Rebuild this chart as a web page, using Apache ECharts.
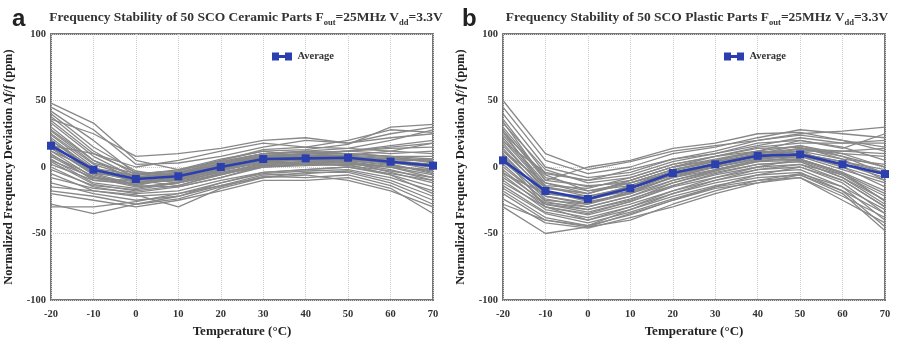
<!DOCTYPE html>
<html><head><meta charset="utf-8">
<script src="https://cdn.jsdelivr.net/npm/echarts@6/dist/echarts.min.js"></script>
<style>html,body{margin:0;padding:0;background:#fff}#c{width:897px;height:343px}</style>
</head><body><div id="c"></div>
<script>
var temps = [-20,-10,0,10,20,30,40,50,60,70];
var yTicks = [-100,-50,0,50,100];
var avgCeramic = [16,-2,-9,-7,0,6,6.5,7,4,1];
var avgPlastic = [5,-18,-24,-16,-4.5,2,8.4,9.4,2,-5.3];

var partsCeramic = [
[48,33,5,-2,4,10,12,14,20,28],
[45,28,2,3,8,15,20,18,22,25],
[42,20,-5,-3,5,12,13,17,30,32],
[40,15,-3,-8,2,8,10,12,15,18],
[38,12,-6,-4,3,10,12,10,8,6],
[35,10,-4,-10,-2,6,8,8,5,2],
[33,8,-8,-5,2,9,10,12,14,15],
[30,5,-7,-9,-3,4,5,7,4,-2],
[28,5,-10,-6,1,8,9,8,2,-5],
[27,3,-5,-3,5,13,15,14,12,10],
[25,2,-8,-12,-5,3,6,4,0,-8],
[24,0,-12,-8,-2,5,6,8,6,4],
[22,-2,-9,-6,1,6,10,12,16,20],
[20,-3,-11,-10,-4,2,3,3,-2,-10],
[20,-1,-6,-2,6,12,8,9,7,5],
[18,-5,-13,-9,-1,5,5,6,3,0],
[17,-4,-10,-14,-6,1,2,4,-4,-12],
[15,-6,-14,-8,2,8,10,10,8,8],
[14,-5,-8,-4,4,10,11,12,10,12],
[12,-8,-15,-12,-3,4,6,5,1,-3],
[12,-2,-7,-5,3,7,4,6,4,2],
[10,-10,-12,-10,-2,3,4,5,2,-4],
[9,-7,-14,-15,-8,0,1,2,-6,-15],
[8,-9,-10,-5,2,8,8,9,12,18],
[6,-12,-16,-11,-4,2,4,3,0,-6],
[5,-8,-11,-8,0,7,7,8,6,5],
[4,-13,-18,-14,-5,0,2,1,-3,-8],
[2,-10,-13,-6,3,9,9,10,8,3],
[0,-15,-20,-18,-10,-4,-2,0,-5,-10],
[-2,-14,-17,-12,-6,2,3,5,4,6],
[-5,-18,-22,-20,-12,-5,-3,-2,-8,-18],
[-8,-16,-19,-15,-8,1,2,2,0,-2],
[-12,-20,-25,-22,-14,-6,-5,-3,-10,-22],
[-15,-18,-21,-30,-16,-8,-4,-4,-12,-25],
[-18,-22,-28,-24,-15,-7,-8,-6,-14,-28],
[-20,-25,-30,-25,-18,-10,-10,-8,-16,-35],
[-28,-35,-28,-22,-12,-4,-2,0,-6,-20],
[-30,-30,-26,-20,-14,-8,-6,-10,-18,-30],
[36,25,8,10,14,20,22,18,25,30],
[16,10,0,5,12,18,15,20,28,26]
];

var partsPlastic = [
[50,10,-2,4,12,16,20,25,27,30],
[45,5,-5,0,10,15,22,28,25,22],
[40,0,-8,-4,6,12,20,24,20,12],
[36,-5,-10,-6,4,10,18,20,15,5],
[33,-2,-12,-8,2,8,15,18,18,18],
[30,-8,-15,-10,0,6,12,16,10,0],
[28,-10,-14,-12,-2,4,10,14,8,-5],
[26,-6,-18,-14,-4,2,8,12,12,10],
[24,-12,-20,-10,0,8,14,15,6,-10],
[22,-14,-16,-8,2,8,12,10,4,-2],
[20,-15,-22,-15,-5,2,10,12,0,-15],
[18,-18,-25,-16,-6,0,6,8,-2,-12],
[16,-16,-20,-12,-2,5,11,13,10,8],
[14,-20,-24,-18,-8,-2,5,6,-5,-20],
[12,-18,-26,-20,-10,-3,4,8,2,-8],
[10,-22,-28,-18,-6,1,8,10,4,-4],
[8,-20,-24,-14,-3,4,9,12,6,2],
[6,-24,-30,-22,-12,-4,2,4,-8,-25],
[4,-22,-27,-19,-8,0,6,9,0,-10],
[2,-26,-32,-24,-14,-6,0,2,-10,-30],
[0,-25,-28,-20,-7,0,7,8,2,-6],
[-2,-28,-34,-26,-15,-8,-2,0,-12,-35],
[-4,-27,-30,-22,-10,-2,5,6,-4,-18],
[-6,-30,-36,-28,-18,-10,-4,-2,-15,-40],
[-8,-28,-32,-25,-12,-3,4,5,-6,-22],
[-10,-32,-38,-30,-20,-12,-6,-4,-18,-45],
[-12,-30,-35,-26,-14,-5,2,4,-8,-28],
[-14,-34,-40,-32,-22,-14,-8,-6,-20,-48],
[-16,-35,-42,-34,-24,-15,-10,-8,-25,-42],
[-18,-38,-44,-36,-25,-16,-12,-8,-22,-38],
[-20,-40,-45,-40,-28,-18,-10,-5,-15,-32],
[-24,-42,-46,-38,-30,-20,-12,-6,-18,-35],
[-30,-50,-45,-35,-25,-15,-6,0,-10,-30],
[-28,-40,-44,-32,-20,-10,-2,2,-6,-25],
[34,-10,0,5,14,18,25,26,20,15],
[26,-15,-20,-10,0,5,12,20,14,25],
[19,-4,-10,-2,6,10,16,22,18,20],
[12,-12,-18,-12,-4,3,8,14,12,14],
[-5,-20,-22,-16,-6,2,10,16,8,0],
[8,-30,-40,-30,-18,-8,0,6,-4,-26]
];

var titleCeramic = ['Frequency Stability of 50 SCO Ceramic Parts F','out','=25MHz V','dd','=3.3V'];
var titlePlastic = ['Frequency Stability of 50 SCO Plastic Parts F','out','=25MHz V','dd','=3.3V'];

var serif = '"Liberation Serif","DejaVu Serif",serif';
var blue = '#2b3fae';
var gray = '#888888';

function titleText(p){ return p[0]+'{s|'+p[1]+'}'+p[2]+'{s|'+p[3]+'}'+p[4]; }
var titleRich = { s: { fontFamily: serif, fontWeight: 'bold', fontSize: 8.5, verticalAlign: 'bottom', lineHeight: 18, padding:[6,0,0,0], color:'#333' } };

function pairs(vals){ return temps.map(function(t,i){ return [t, vals[i]]; }); }

var series = [];
function addPanel(parts, avg, idx){
  parts.forEach(function(p, k){
    series.push({ type:'line', name:'part'+idx+'_'+k, xAxisIndex:idx, yAxisIndex:idx, data:pairs(p),
      symbol:'none', silent:true, lineStyle:{ color:gray, width:1.3 }, itemStyle:{color:gray}, z:2 });
  });
  series.push({ type:'line', name:'Average', xAxisIndex:idx, yAxisIndex:idx, data:pairs(avg),
    symbol:'rect', symbolSize:8, lineStyle:{ color:blue, width:2.6 }, itemStyle:{ color:blue }, z:5 });
}
addPanel(partsCeramic, avgCeramic, 0);
addPanel(partsPlastic, avgPlastic, 1);

var grids = [
  { left:51, top:34, width:382, height:273, show:true, borderColor:'#777777', borderWidth:2, backgroundColor:'#fff' },
  { left:503, top:34, width:382, height:273, show:true, borderColor:'#777777', borderWidth:2, backgroundColor:'#fff' }
];

function xAxis(i){
  return { type:'value', gridIndex:i, min:temps[0], max:temps[temps.length-1], interval:10,
    name:'Temperature (°C)', nameLocation:'middle', nameGap:25,
    nameTextStyle:{ fontFamily:serif, fontWeight:'bold', fontSize:13, color:'#222' },
    axisLine:{ show:false }, axisTick:{ show:false },
    axisLabel:{ fontFamily:serif, fontWeight:'bold', fontSize:10.5, color:'#333', margin:9 },
    splitLine:{ show:true, lineStyle:{ type:'dotted', color:'#cccccc', width:1 } } };
}
function yAxis(i){
  return { type:'value', gridIndex:i, min:yTicks[0], max:yTicks[yTicks.length-1], interval:50,
    name:'Normalized Frequency Deviation Δ{i|f}/{i|f} (ppm)', nameLocation:'middle', nameGap:36,
    nameTextStyle:{ fontFamily:serif, fontWeight:'bold', fontSize:12.5, color:'#222',
      rich:{ i:{ fontFamily:serif, fontWeight:'bold', fontStyle:'italic', fontSize:12.5, color:'#222' } } },
    axisLine:{ show:false }, axisTick:{ show:false },
    axisLabel:{ fontFamily:serif, fontWeight:'bold', fontSize:10.5, color:'#333', margin:5 },
    splitLine:{ show:true, lineStyle:{ type:'dotted', color:'#cccccc', width:1 } } };
}

var legendIcon = 'path://M0,0H7V8H0Z M13,0H20V8H13Z M7,2.5H13V5.5H7Z';

var chart = echarts.init(document.getElementById('c'), null, { renderer:'canvas' });
chart.setOption({
  animation:false,
  backgroundColor:'#fff',
  title:[
    { text:'a', left:7, top:2, textStyle:{ fontFamily:'"Liberation Sans",Arial,sans-serif', fontWeight:'bold', fontSize:24, color:'#222' } },
    { text:'b', left:457, top:2, textStyle:{ fontFamily:'"Liberation Sans",Arial,sans-serif', fontWeight:'bold', fontSize:24, color:'#222' } },
    { text:titleText(titleCeramic), left:241, textAlign:'center', top:4,
      textStyle:{ fontFamily:serif, fontWeight:'bold', fontSize:13.5, color:'#333', lineHeight:18, rich:titleRich } },
    { text:titleText(titlePlastic), left:692, textAlign:'center', top:4,
      textStyle:{ fontFamily:serif, fontWeight:'bold', fontSize:13.5, color:'#333', lineHeight:18, rich:titleRich } }
  ],
  legend:[
    { data:[{name:'Average', icon:legendIcon}], left:267, top:46, itemWidth:21, itemHeight:8, itemGap:6, selectedMode:false,
      textStyle:{ fontFamily:serif, fontWeight:'bold', fontSize:10.5, color:'#333' } },
    { data:[{name:'Average', icon:legendIcon}], left:719, top:46, itemWidth:21, itemHeight:8, itemGap:6, selectedMode:false,
      textStyle:{ fontFamily:serif, fontWeight:'bold', fontSize:10.5, color:'#333' } }
  ],
  grid:grids,
  xAxis:[xAxis(0), xAxis(1)],
  yAxis:[yAxis(0), yAxis(1)],
  series:series
});
</script></body></html>
